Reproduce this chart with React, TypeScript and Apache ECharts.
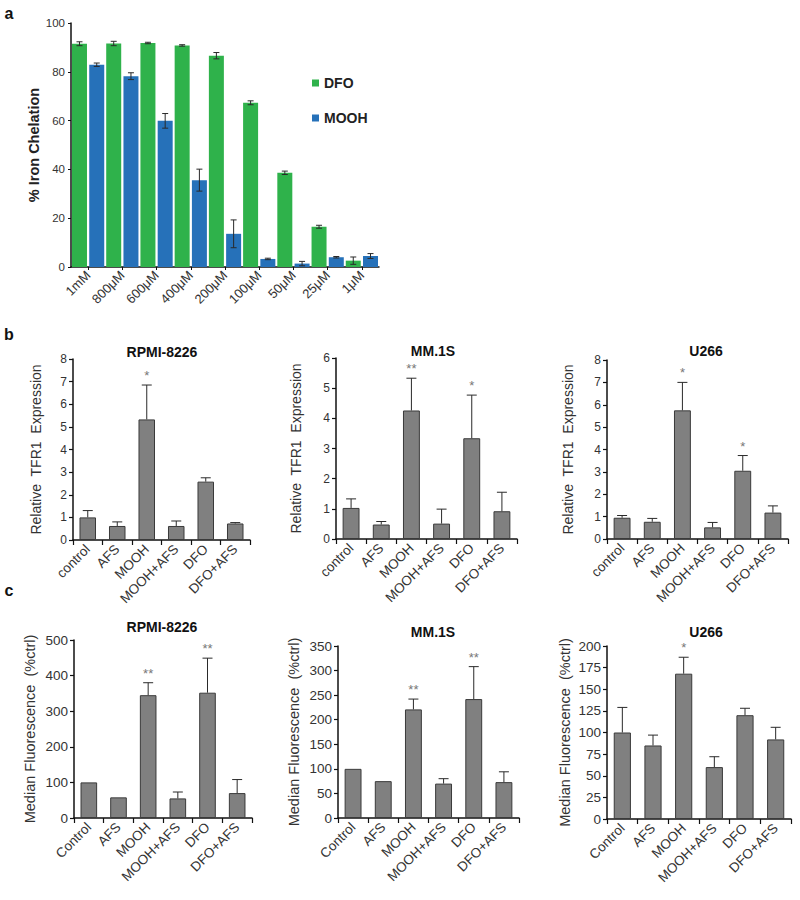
import React, { useEffect, useRef } from "react";
import * as echarts from "echarts";

// ---------- data ----------
const concCategories = ["1mM", "800μM", "600μM", "400μM", "200μM", "100μM", "50μM", "25μM", "1μM"];
const dfoValues = [91.5, 91.6, 91.8, 90.8, 86.6, 67.3, 38.6, 16.5, 2.6];
const dfoErrors = [0.8, 0.9, 0.3, 0.3, 1.3, 0.8, 0.7, 0.6, 1.5];
const moohValues = [82.9, 78.2, 59.9, 35.6, 13.6, 3.3, 1.4, 4.0, 4.5];
const moohErrors = [0.7, 1.4, 3.0, 4.5, 5.7, 0.3, 0.9, 0.3, 1.0];

const tfrCategories = ["control", "AFS", "MOOH", "MOOH+AFS", "DFO", "DFO+AFS"];
const fluoCategories = ["Control", "AFS", "MOOH", "MOOH+AFS", "DFO", "DFO+AFS"];

const tfrRpmiValues = [1.0, 0.62, 5.33, 0.62, 2.58, 0.73];
const tfrRpmiErrors = [0.3, 0.18, 1.52, 0.22, 0.17, 0.04];
const tfrRpmiStars = ["", "", "*", "", "", ""];
const tfrMmValues = [1.03, 0.48, 4.26, 0.51, 3.34, 0.92];
const tfrMmErrors = [0.3, 0.1, 1.07, 0.48, 1.43, 0.63];
const tfrMmStars = ["", "", "**", "", "*", ""];
const tfrU266Values = [0.95, 0.77, 5.75, 0.52, 3.05, 1.18];
const tfrU266Errors = [0.1, 0.15, 1.25, 0.22, 0.68, 0.3];
const tfrU266Stars = ["", "", "*", "", "*", ""];

const fluoRpmiValues = [100, 58, 345, 55, 352, 70];
const fluoRpmiErrors = [0, 0, 35, 18, 97, 38];
const fluoRpmiStars = ["", "", "**", "", "**", ""];
const fluoMmValues = [100, 75, 221, 70, 242, 73];
const fluoMmErrors = [0, 0, 21, 10, 66, 21];
const fluoMmStars = ["", "", "**", "", "**", ""];
const fluoU266Values = [100, 85, 168, 60, 120, 92];
const fluoU266Errors = [29, 12, 19, 12, 8, 14];
const fluoU266Stars = ["", "", "*", "", "", ""];

// ---------- styles ----------
const FONT = "'Liberation Sans', Arial, Helvetica, sans-serif";
const AXIS_COLOR = "#111";
const TEXT_COLOR = "#333";
const GREEN = "#2fb24b";
const BLUE = "#2671b9";
const GRAY = "#808080";

function errorSeries(
  idx: number,
  values: number[],
  errors: number[],
  stars: string[] | null,
  offset: number,
  both: boolean,
  cap: number
) {
  return {
    type: "custom",
    xAxisIndex: idx,
    yAxisIndex: idx,
    silent: true,
    z: 10,
    data: values.map((v, i) => [i, v, errors[i]]),
    encode: { x: 0, y: 1 },
    renderItem: (params: any, api: any) => {
      const ci = api.value(0);
      const v = api.value(1);
      const e = api.value(2);
      const star = stars ? stars[params.dataIndex] : "";
      const base = api.coord([ci, v]);
      const x = base[0] + offset;
      const top = api.coord([ci, v + e])[1];
      const bottom = both ? api.coord([ci, Math.max(0, v - e)])[1] : base[1];
      const st = { stroke: "#2a2a2a", lineWidth: 1 };
      const children: any[] = [];
      if (e > 0) {
        children.push({ type: "line", shape: { x1: x, y1: top, x2: x, y2: bottom }, style: st });
        children.push({ type: "line", shape: { x1: x - cap, y1: top, x2: x + cap, y2: top }, style: st });
        if (both) {
          children.push({ type: "line", shape: { x1: x - cap, y1: bottom, x2: x + cap, y2: bottom }, style: st });
        }
      }
      if (star) {
        children.push({
          type: "text",
          x: x,
          y: top - 3,
          style: {
            text: star,
            fill: "#777",
            font: `13px ${FONT}`,
            align: "center",
            verticalAlign: "bottom",
            textAlign: "center",
            textVerticalAlign: "bottom",
          },
        });
      }
      return { type: "group", children };
    },
  };
}

type Panel = {
  grid: { left: number; top: number; width: number; height: number };
  cats: string[];
  values: number[];
  errors: number[];
  stars: string[];
  max: number;
  interval: number;
  name: string;
  nameGap: number;
  nameSize: number;
  labelSize: number;
  title: string;
  titleX: number;
  titleY: number;
};

const panels: Panel[] = [
  { grid: { left: 73, top: 359, width: 177, height: 181 }, cats: tfrCategories, values: tfrRpmiValues, errors: tfrRpmiErrors, stars: tfrRpmiStars, max: 8, interval: 1, name: "Relative  TFR1  Expression", nameGap: 30, nameSize: 14, labelSize: 12, title: "RPMI-8226", titleX: 162, titleY: 352 },
  { grid: { left: 336, top: 358, width: 181, height: 181 }, cats: tfrCategories, values: tfrMmValues, errors: tfrMmErrors, stars: tfrMmStars, max: 6, interval: 1, name: "Relative  TFR1  Expression", nameGap: 33, nameSize: 14, labelSize: 12, title: "MM.1S", titleX: 433, titleY: 351 },
  { grid: { left: 607, top: 360, width: 181, height: 179 }, cats: tfrCategories, values: tfrU266Values, errors: tfrU266Errors, stars: tfrU266Stars, max: 8, interval: 1, name: "Relative  TFR1  Expression", nameGap: 32, nameSize: 14, labelSize: 12, title: "U266", titleX: 706, titleY: 351 },
  { grid: { left: 74, top: 640, width: 178, height: 178 }, cats: fluoCategories, values: fluoRpmiValues, errors: fluoRpmiErrors, stars: fluoRpmiStars, max: 500, interval: 100, name: "Median Fluorescence  (%ctrl)", nameGap: 37, nameSize: 14.5, labelSize: 13.5, title: "RPMI-8226", titleX: 162, titleY: 627 },
  { grid: { left: 338, top: 646, width: 181, height: 172 }, cats: fluoCategories, values: fluoMmValues, errors: fluoMmErrors, stars: fluoMmStars, max: 350, interval: 50, name: "Median Fluorescence  (%ctrl)", nameGap: 37, nameSize: 14.5, labelSize: 13.5, title: "MM.1S", titleX: 433, titleY: 632 },
  { grid: { left: 607, top: 646, width: 184, height: 173 }, cats: fluoCategories, values: fluoU266Values, errors: fluoU266Errors, stars: fluoU266Stars, max: 200, interval: 25, name: "Median Fluorescence  (%ctrl)", nameGap: 35, nameSize: 14.5, labelSize: 13.5, title: "U266", titleX: 706, titleY: 632 },
];

function buildOption() {
  const grids: any[] = [{ left: 71, top: 23, width: 308, height: 244 }];
  const xAxes: any[] = [
    {
      type: "category",
      gridIndex: 0,
      data: concCategories,
      axisLine: { lineStyle: { color: AXIS_COLOR, width: 1.5 } },
      axisTick: { show: true, alignWithLabel: true, length: 3, lineStyle: { color: AXIS_COLOR } },
      axisLabel: { rotate: 45, fontSize: 13, color: TEXT_COLOR, fontFamily: FONT, margin: 6, interval: 0 },
    },
  ];
  const yAxes: any[] = [
    {
      type: "value",
      gridIndex: 0,
      min: 0,
      max: 100,
      interval: 20,
      name: "% Iron Chelation",
      nameLocation: "middle",
      nameGap: 30,
      nameTextStyle: { fontSize: 14.5, fontWeight: "bold", color: "#222", fontFamily: FONT },
      splitLine: { show: false },
      axisLine: { show: true, lineStyle: { color: AXIS_COLOR, width: 1.5 } },
      axisTick: { show: true, length: 3, lineStyle: { color: AXIS_COLOR } },
      axisLabel: { fontSize: 11.5, color: TEXT_COLOR, fontFamily: FONT, margin: 6 },
    },
  ];
  const barW = 15;
  const gapRatio = 0.15;
  const off = (barW + barW * gapRatio) / 2;
  const series: any[] = [
    { type: "bar", name: "DFO", xAxisIndex: 0, yAxisIndex: 0, data: dfoValues, barWidth: barW, barGap: "15%", itemStyle: { color: GREEN } },
    { type: "bar", name: "MOOH", xAxisIndex: 0, yAxisIndex: 0, data: moohValues, barWidth: barW, barGap: "15%", itemStyle: { color: BLUE } },
    errorSeries(0, dfoValues, dfoErrors, null, -off, true, 3),
    errorSeries(0, moohValues, moohErrors, null, off, true, 3),
  ];
  const letter = (t: string, x: number, y: number) => ({
    type: "text",
    x,
    y,
    style: { text: t, font: `bold 16px ${FONT}`, fill: "#111", align: "center", verticalAlign: "middle", textAlign: "center", textVerticalAlign: "middle" },
  });
  const graphic: any[] = [letter("a", 9, 13), letter("b", 9, 334), letter("c", 9, 590)];

  panels.forEach((p, k) => {
    const gi = k + 1;
    grids.push(p.grid);
    xAxes.push({
      type: "category",
      gridIndex: gi,
      data: p.cats,
      axisLine: { lineStyle: { color: AXIS_COLOR, width: 1.5 } },
      axisTick: { show: true, length: 5, lineStyle: { color: AXIS_COLOR, width: 1.2 } },
      axisLabel: { rotate: 45, fontSize: 13.5, color: TEXT_COLOR, fontFamily: FONT, margin: 7, interval: 0 },
    });
    yAxes.push({
      type: "value",
      gridIndex: gi,
      min: 0,
      max: p.max,
      interval: p.interval,
      name: p.name,
      nameLocation: "middle",
      nameGap: p.nameGap,
      nameTextStyle: { fontSize: p.nameSize, color: TEXT_COLOR, fontFamily: FONT },
      splitLine: { show: false },
      axisLine: { show: true, lineStyle: { color: AXIS_COLOR, width: 1.5 } },
      axisTick: { show: true, length: 4, lineStyle: { color: AXIS_COLOR, width: 1.2 } },
      axisLabel: { fontSize: p.labelSize, color: TEXT_COLOR, fontFamily: FONT, margin: 6 },
    });
    series.push({
      type: "bar",
      name: p.title + k,
      xAxisIndex: gi,
      yAxisIndex: gi,
      data: p.values,
      barWidth: "56%",
      itemStyle: { color: GRAY, borderColor: "#3a3a3a", borderWidth: 1 },
    });
    series.push(errorSeries(gi, p.values, p.errors, p.stars, 0, false, 5));
    graphic.push({
      type: "text",
      x: p.titleX,
      y: p.titleY,
      style: {
        text: p.title,
        font: `bold 14px ${FONT}`,
        fill: "#111",
        align: "center",
        verticalAlign: "middle",
        textAlign: "center",
        textVerticalAlign: "middle",
      },
    });
  });

  return {
    animation: false,
    backgroundColor: "#ffffff",
    textStyle: { fontFamily: FONT },
    grid: grids,
    legend: {
      data: ["DFO", "MOOH"],
      orient: "vertical",
      left: 307,
      top: 71,
      itemWidth: 7,
      itemHeight: 7,
      itemGap: 21,
      icon: "rect",
      textStyle: { fontSize: 14, fontWeight: "bold", color: "#222", fontFamily: FONT },
    },
    xAxis: xAxes,
    yAxis: yAxes,
    series,
    graphic,
  };
}

export default function App() {
  const ref = useRef<HTMLDivElement>(null);
  useEffect(() => {
    if (!ref.current) return;
    const chart = echarts.init(ref.current, undefined, { renderer: "svg" });
    chart.setOption(buildOption() as any);
    return () => chart.dispose();
  }, []);
  return (
    <div
      ref={ref}
      style={{ position: "absolute", left: 0, top: 0, width: 800, height: 900, background: "#fff" }}
    />
  );
}
